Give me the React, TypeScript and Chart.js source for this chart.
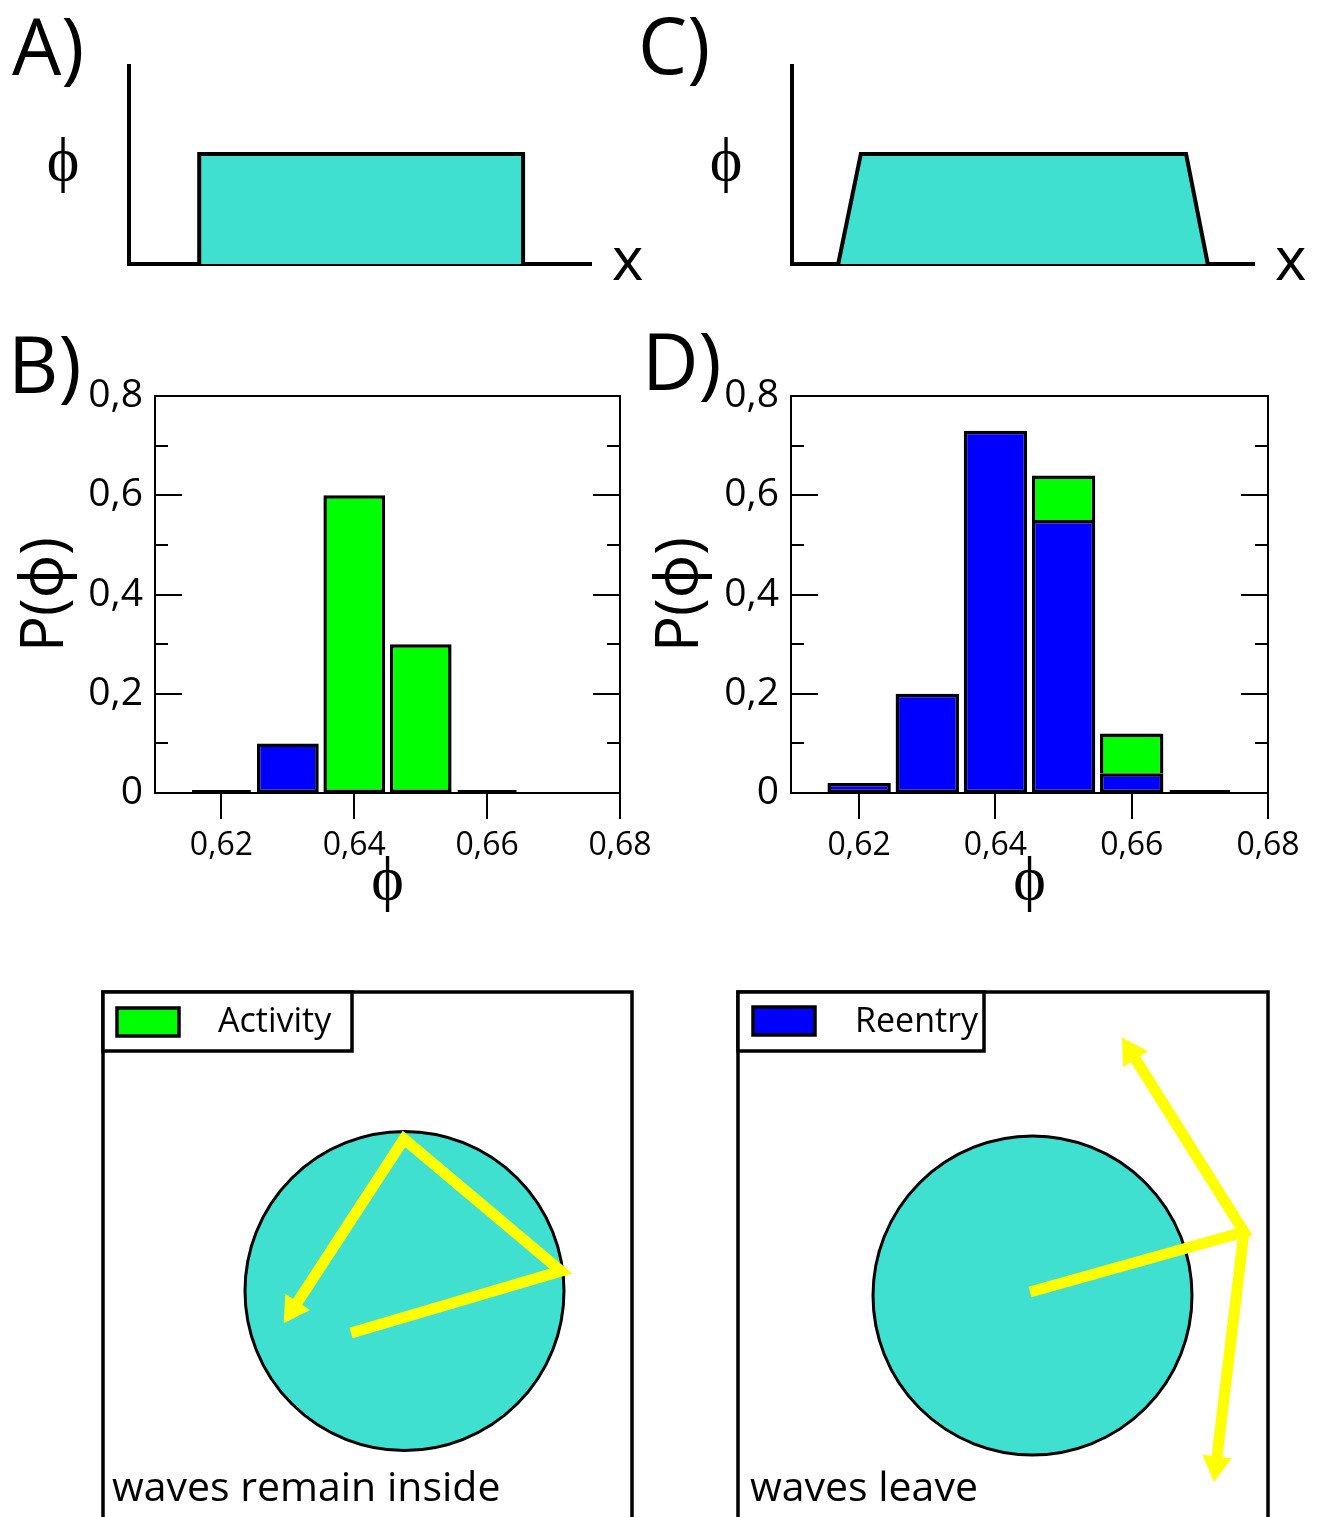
import React, { useEffect, useRef } from "react";
import { Chart, registerables } from "chart.js";

Chart.register(...registerables);

const SANS = "'Open Sans', 'Noto Sans', 'DejaVu Sans', sans-serif";
const SERIF = "'Liberation Serif', 'DejaVu Serif', serif";
const PHI = "\u03D5";

const TURQUOISE = "#40E0D0";
const GREEN = "#00FF00";
const BLUE = "#0000FF";
const YELLOW = "#FFFF00";
const INK = "#000000";

// A / C: density profile along x (x normalised to the axis length, plateau level of phi)
const profileAX = [0.152, 0.152, 0.853, 0.853];
const profileAY = [0, 0.556, 0.556, 0];
const profileCX = [0.1, 0.149, 0.853, 0.9];
const profileCY = [0, 0.556, 0.556, 0];

// B / D: histograms of P(phi), split into reentry and activity
const binsB = [0.62, 0.63, 0.64, 0.65, 0.66];
const reentryB = [0, 0.1, 0, 0, 0];
const activityB = [0, 0, 0.6, 0.3, 0];

const binsD = [0.62, 0.63, 0.64, 0.65, 0.66, 0.67];
const reentryD = [0.02, 0.2, 0.73, 0.55, 0.04, 0];
const activityD = [0, 0, 0, 0.09, 0.08, 0];

const phiTicks = [0.62, 0.64, 0.66, 0.68];
const probTicks = [0, 0.2, 0.4, 0.6, 0.8];
const probMinorTicks = [0.1, 0.3, 0.5, 0.7];

// Sketches: tissue disc and wave paths (frame units, origin lower-left)
const discLeft = [{ x: 301.5, y: 226, r: 159.5 }];
const waveLeftX = [248, 458, 301, 190];
const waveLeftY = [184, 246, 378, 208];

const discRight = [{ x: 294.5, y: 221.5, r: 159.5 }];
const waveRightAX = [292, 506, 393];
const waveRightAY = [225, 285, 465];
const waveRightBX = [506, 478];
const waveRightBY = [285, 52];

const comma = (v: number, d: number) => (v === 0 ? "0" : v.toFixed(d).replace(".", ","));
const points = (xs: number[], ys: number[]) => xs.map((x, i) => ({ x, y: ys[i] }));

// Free text, legend box and open frame drawn on top of a chart
const decorPlugin = {
  id: "decor",
  afterDraw(chart: any, _args: any, opts: any) {
    const ctx = chart.ctx as CanvasRenderingContext2D;
    const ca = chart.chartArea;
    ctx.save();
    if (opts.frame) {
      ctx.strokeStyle = INK;
      ctx.lineWidth = opts.frame;
      ctx.lineJoin = "miter";
      ctx.beginPath();
      ctx.moveTo(ca.left, chart.height + 10);
      ctx.lineTo(ca.left, ca.top);
      ctx.lineTo(ca.right, ca.top);
      ctx.lineTo(ca.right, chart.height + 10);
      ctx.stroke();
    }
    if (opts.legend) {
      const L = opts.legend;
      ctx.fillStyle = "#fff";
      ctx.fillRect(L.x, L.y, L.w, L.h);
      ctx.strokeStyle = INK;
      ctx.lineWidth = opts.frame || 3.5;
      ctx.strokeRect(L.x, L.y, L.w, L.h);
      ctx.fillStyle = L.color;
      ctx.fillRect(L.sx, L.sy, L.sw, L.sh);
      ctx.lineWidth = 3.5;
      ctx.strokeRect(L.sx, L.sy, L.sw, L.sh);
      ctx.fillStyle = INK;
      ctx.font = `${L.size}px ${SANS}`;
      ctx.textAlign = "left";
      ctx.textBaseline = "alphabetic";
      ctx.fillText(L.text, L.tx, L.ty);
    }
    for (const t of opts.texts || []) {
      ctx.fillStyle = INK;
      ctx.font = `${t.size}px ${t.serif ? SERIF : SANS}`;
      ctx.textAlign = t.align || "left";
      ctx.textBaseline = "alphabetic";
      ctx.fillText(t.text, t.x, t.y);
    }
    ctx.restore();
  },
};

// Inward ticks on both vertical sides, and flat marks for empty bins
const histogramPlugin = {
  id: "histogramMarks",
  afterDatasetsDraw(chart: any) {
    const ctx = chart.ctx as CanvasRenderingContext2D;
    const y = chart.scales.y;
    const y0 = y.getPixelForValue(0);
    const sets = chart.data.datasets;
    const meta = chart.getDatasetMeta(0);
    ctx.save();
    ctx.strokeStyle = INK;
    ctx.lineWidth = 4;
    meta.data.forEach((bar: any, i: number) => {
      const total = sets.reduce((s: number, ds: any) => s + ds.data[i].y, 0);
      if (total !== 0) return;
      ctx.beginPath();
      ctx.moveTo(bar.x - bar.width / 2 + 1.5, y0 - 1);
      ctx.lineTo(bar.x + bar.width / 2 - 1.5, y0 - 1);
      ctx.stroke();
    });
    ctx.restore();
  },
  afterDraw(chart: any) {
    const ctx = chart.ctx as CanvasRenderingContext2D;
    const y = chart.scales.y;
    const { left, right } = chart.chartArea;
    ctx.save();
    ctx.strokeStyle = INK;
    ctx.lineWidth = 2;
    const tick = (v: number, len: number) => {
      const py = Math.round(y.getPixelForValue(v));
      ctx.beginPath();
      ctx.moveTo(left, py);
      ctx.lineTo(left + len, py);
      ctx.moveTo(right, py);
      ctx.lineTo(right - len, py);
      ctx.stroke();
    };
    probTicks.forEach((v) => tick(v, 27));
    probMinorTicks.forEach((v) => tick(v, 13));
    ctx.restore();
  },
};

function profileConfig(xs: number[], ys: number[], padding: any, texts: any[]) {
  const hidden = {
    ticks: { display: false },
    grid: { display: false, drawTicks: false },
    border: { display: true, color: INK, width: 4 },
  };
  return {
    type: "line",
    data: {
      datasets: [
        {
          data: points(xs, ys),
          borderColor: INK,
          borderWidth: 4,
          backgroundColor: TURQUOISE,
          fill: "origin",
          pointRadius: 0,
          tension: 0,
          borderJoinStyle: "miter",
          clip: false,
        },
      ],
    },
    options: {
      animation: false,
      responsive: false,
      events: [],
      layout: { padding, autoPadding: false },
      plugins: { legend: { display: false }, tooltip: { enabled: false }, decor: { texts } },
      scales: {
        x: { type: "linear", min: 0, max: 1, z: 1, ...hidden, afterFit: (s: any) => { s.height = 0; } },
        y: { type: "linear", min: 0, max: 1, z: 1, ...hidden, afterFit: (s: any) => { s.width = 0; } },
      },
    },
    plugins: [decorPlugin],
  };
}

function histogramConfig(
  bins: number[],
  reentry: number[],
  activity: number[],
  padLeft: number,
  padRight: number,
  axisWidth: number,
  texts: any[]
) {
  const bar = { borderColor: INK, borderWidth: 3.5, barPercentage: 0.93, categoryPercentage: 1 };
  const frameAxis = {
    ticks: { display: false },
    grid: { display: false, drawTicks: false },
    border: { display: true, color: INK, width: 2 },
  };
  return {
    type: "bar",
    data: {
      datasets: [
        { label: "Reentry", data: points(bins, reentry), backgroundColor: BLUE, borderSkipped: false, ...bar },
        {
          label: "Activity",
          data: points(bins, activity),
          backgroundColor: GREEN,
          borderSkipped: (c: any) => (reentry[c.dataIndex] > 0 ? "bottom" : false),
          ...bar,
        },
      ],
    },
    options: {
      animation: false,
      responsive: false,
      events: [],
      layout: { padding: { left: padLeft, right: padRight, top: 76, bottom: 0 } },
      plugins: { legend: { display: false }, tooltip: { enabled: false }, decor: { texts } },
      scales: {
        x: {
          type: "linear",
          min: 0.61,
          max: 0.68,
          offset: false,
          stacked: true,
          z: 1,
          afterBuildTicks: (s: any) => { s.ticks = phiTicks.map((value) => ({ value })); },
          afterFit: (s: any) => { s.height = 147; },
          grid: {
            display: true,
            offset: false,
            drawOnChartArea: false,
            drawTicks: true,
            tickLength: 26,
            tickWidth: 2,
            tickColor: INK,
            color: INK,
            lineWidth: 2,
          },
          border: { display: true, color: INK, width: 2 },
          ticks: {
            padding: 8,
            color: INK,
            maxRotation: 0,
            autoSkip: false,
            font: { family: SANS, size: 32 },
            callback: (v: any) => comma(Number(v), 2),
          },
          title: {
            display: true,
            text: PHI,
            color: INK,
            font: { family: SERIF, size: 62, lineHeight: 1.2 },
            padding: { top: 0, bottom: 20 },
          },
        },
        x2: {
          type: "linear",
          position: "top",
          min: 0.61,
          max: 0.68,
          ...frameAxis,
          afterFit: (s: any) => { s.height = 0; },
        },
        y: {
          type: "linear",
          min: 0,
          max: 0.8,
          stacked: true,
          afterBuildTicks: (s: any) => { s.ticks = probTicks.map((value) => ({ value })); },
          afterFit: (s: any) => { s.width = axisWidth; },
          grid: { display: false, drawTicks: false },
          border: { display: true, color: INK, width: 2 },
          ticks: {
            padding: 12,
            color: INK,
            font: { family: SANS, size: 39 },
            callback: (v: any) => comma(Number(v), 1),
          },
          title: {
            display: true,
            text: `P(${PHI})`,
            color: INK,
            font: { family: SANS, size: 60, lineHeight: 1.2 },
            padding: { top: 0, bottom: 0 },
          },
        },
        y2: {
          type: "linear",
          position: "right",
          min: 0,
          max: 0.8,
          ...frameAxis,
          afterFit: (s: any) => { s.width = 0; },
        },
      },
    },
    plugins: [histogramPlugin, decorPlugin],
  };
}

// Arrow head sits on the last vertex of a wave path, turned along its final segment
const headRadius = (n: number) => (c: any) => (c.dataIndex === n - 1 ? 17 : 0);
const headRotation = (xs: number[], ys: number[]) => (c: any) => {
  const n = xs.length;
  if (c.dataIndex !== n - 1) return 0;
  const { x, y } = c.chart.scales;
  const dx = x.getPixelForValue(xs[n - 1]) - x.getPixelForValue(xs[n - 2]);
  const dy = y.getPixelForValue(ys[n - 1]) - y.getPixelForValue(ys[n - 2]);
  return (Math.atan2(dx, -dy) * 180) / Math.PI;
};

function waveDataset(xs: number[], ys: number[], arrow: boolean) {
  return {
    type: "line",
    data: points(xs, ys),
    borderColor: YELLOW,
    borderWidth: 11,
    borderJoinStyle: "miter",
    borderCapStyle: "butt",
    fill: false,
    tension: 0,
    pointStyle: "triangle",
    pointRadius: arrow ? headRadius(xs.length) : 0,
    pointRotation: headRotation(xs, ys),
    pointBackgroundColor: YELLOW,
    pointBorderColor: YELLOW,
    pointBorderWidth: 0,
    clip: false,
    order: 0,
  };
}

function sketchConfig(disc: any[], waves: any[], width: number, padding: any, legend: any, caption: any) {
  return {
    type: "scatter",
    data: {
      datasets: [
        ...waves,
        {
          type: "bubble",
          data: disc,
          backgroundColor: TURQUOISE,
          borderColor: INK,
          borderWidth: 3,
          clip: false,
          order: 1,
        },
      ],
    },
    options: {
      animation: false,
      responsive: false,
      events: [],
      layout: { padding, autoPadding: false },
      plugins: {
        legend: { display: false },
        tooltip: { enabled: false },
        decor: { frame: 3.5, legend, texts: [caption] },
      },
      scales: {
        x: { type: "linear", display: false, min: 0, max: width },
        y: { type: "linear", display: false, min: 0, max: 525 },
      },
    },
    plugins: [decorPlugin],
  };
}

function Panel({ left, top, width, height, config }: any) {
  const ref = useRef<HTMLCanvasElement>(null);
  useEffect(() => {
    const chart = new Chart(ref.current as HTMLCanvasElement, config());
    return () => chart.destroy();
  }, []);
  return (
    <canvas
      ref={ref}
      width={width}
      height={height}
      style={{ position: "absolute", left, top, width, height }}
    />
  );
}

export default function App() {
  return (
    <div
      style={{
        position: "absolute",
        left: 0,
        top: 0,
        width: 1321,
        height: 1517,
        overflow: "hidden",
        background: "#fff",
      }}
    >
      <style>{"html,body{margin:0;overflow:hidden;background:#fff}"}</style>
      <Panel
        left={0}
        top={0}
        width={660}
        height={300}
        config={() =>
          profileConfig(profileAX, profileAY, { left: 129, top: 66, right: 69, bottom: 36 }, [
            { text: "A)", x: 12, y: 75, size: 78 },
            { text: PHI, x: 63, y: 180, size: 62, serif: true, align: "center" },
            { text: "x", x: 612, y: 280, size: 60 },
          ])
        }
      />
      <Panel
        left={630}
        top={0}
        width={691}
        height={300}
        config={() =>
          profileConfig(profileCX, profileCY, { left: 162, top: 66, right: 67, bottom: 36 }, [
            { text: "C)", x: 8, y: 74, size: 78 },
            { text: PHI, x: 96, y: 180, size: 62, serif: true, align: "center" },
            { text: "x", x: 645, y: 280, size: 60 },
          ])
        }
      />
      <Panel
        left={0}
        top={320}
        width={660}
        height={620}
        config={() =>
          histogramConfig(binsB, reentryB, activityB, 10, 40, 145, [{ text: "B)", x: 8, y: 73, size: 78 }])
        }
      />
      <Panel
        left={630}
        top={320}
        width={691}
        height={620}
        config={() =>
          histogramConfig(binsD, reentryD, activityD, 15, 53, 146, [{ text: "D)", x: 12, y: 70, size: 78 }])
        }
      />
      <Panel
        left={0}
        top={960}
        width={660}
        height={557}
        config={() =>
          sketchConfig(
            discLeft,
            [waveDataset(waveLeftX, waveLeftY, true)],
            529,
            { left: 103, right: 28, top: 32, bottom: 0 },
            { x: 103, y: 32, w: 249, h: 59, sx: 117, sy: 48, sw: 62, sh: 28, color: GREEN, text: "Activity", tx: 218, ty: 72, size: 34 },
            { text: "waves remain inside", x: 112, y: 541, size: 41 }
          )
        }
      />
      <Panel
        left={660}
        top={960}
        width={661}
        height={557}
        config={() =>
          sketchConfig(
            discRight,
            [waveDataset(waveRightAX, waveRightAY, true), waveDataset(waveRightBX, waveRightBY, true)],
            530,
            { left: 78, right: 53, top: 32, bottom: 0 },
            { x: 78, y: 32, w: 246, h: 59, sx: 93, sy: 47, sw: 62, sh: 28, color: BLUE, text: "Reentry", tx: 195, ty: 72, size: 34 },
            { text: "waves leave", x: 90, y: 541, size: 41 }
          )
        }
      />
    </div>
  );
}
